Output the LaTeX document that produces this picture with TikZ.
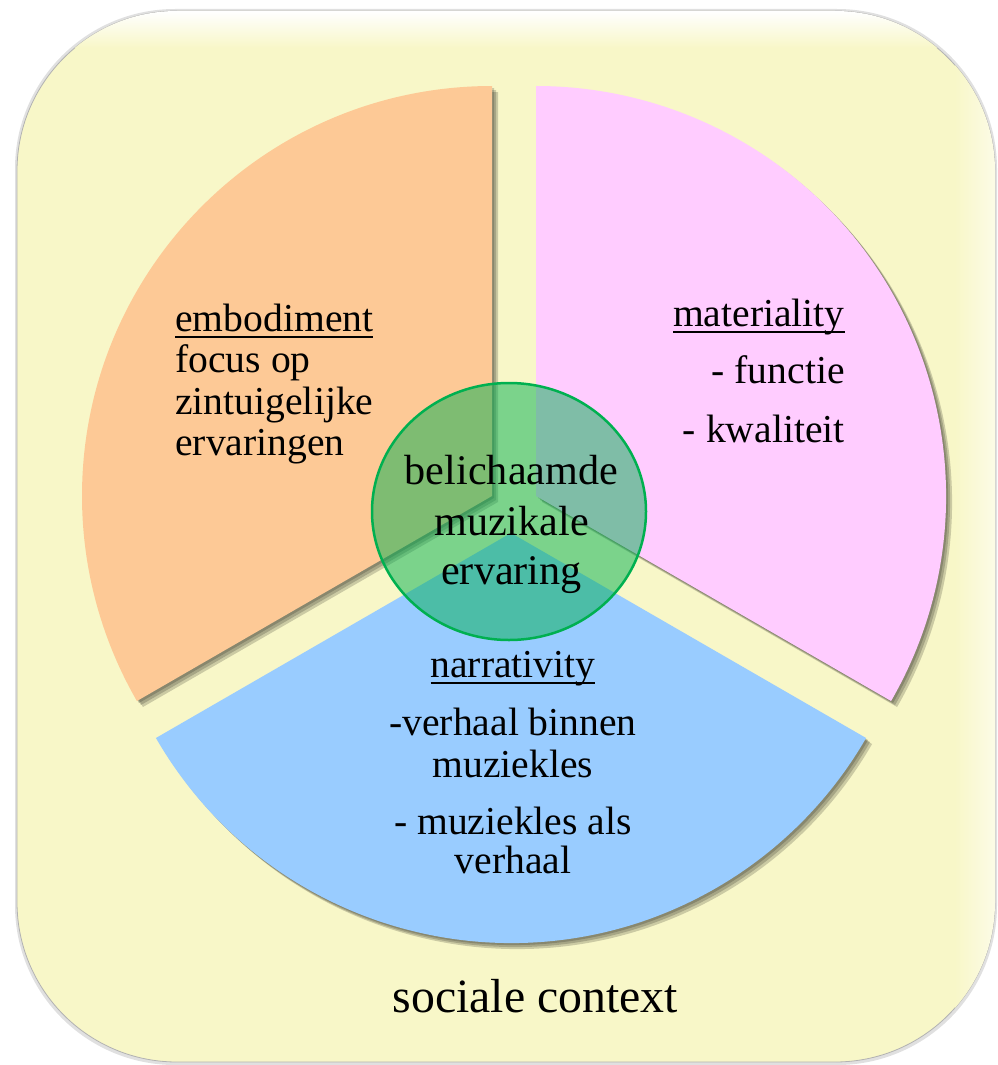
\documentclass[tikz,border=0pt]{standalone}
\usepackage{fontspec}
\setmainfont{LiberationSerif}[Extension=.ttf, UprightFont=*-Regular, BoldFont=*-Bold, ItalicFont=*-Italic, BoldItalicFont=*-BoldItalic]
\usetikzlibrary{shapes.geometric}
\definecolor{bgyellow}{RGB}{248,247,200}
\definecolor{orangesec}{RGB}{253,201,150}
\definecolor{pinksec}{RGB}{255,204,255}
\definecolor{bluesec}{RGB}{153,204,255}
\definecolor{greenc}{RGB}{0,176,80}
\newsavebox\myulbox
\newcommand{\myul}[1]{\sbox\myulbox{#1}\rlap{\rule[-3.25pt]{\wd\myulbox}{1pt}}\usebox\myulbox}
\begin{document}
\begin{tikzpicture}[x=0.5pt,y=0.5pt,
  txt/.style={inner sep=0pt, font=\rmfamily\fontsize{19.8}{20.5}\selectfont},
  ctxt/.style={inner sep=0pt, font=\rmfamily\fontsize{21.1}{24}\selectfont},
  bigtxt/.style={inner sep=0pt, font=\rmfamily\fontsize{23.9}{27}\selectfont},
  shadowlayer/.style={fill=black, opacity=0.18, draw=none},
  core/.style={ellipse, draw=greenc, fill=greenc, fill opacity=0.5, line width=1.25pt,
    minimum width=137pt, minimum height=128.5pt, inner sep=0pt}]
\useasboundingbox (0,0) rectangle (997,-1065);
\fill[white] (0,0) rectangle (997,-1065);
% background panel
\fill[black, opacity=0.12, rounded corners=80pt] (15,-9) rectangle (997,-1065);
\path[fill=bgyellow, draw=black!30, line width=0.4pt, rounded corners=80pt] (17,-11) rectangle (995,-1062);
\begin{scope}
  \clip[rounded corners=80pt] (17,-11) rectangle (995,-1062);
  \shade[top color=white, bottom color=bgyellow] (17,-11) rectangle (995,-48);
  \shade[left color=bgyellow, right color=white!55!bgyellow] (955,-11) rectangle (995,-1062);
\end{scope}
% shadows of the sectors
\foreach \d in {2,4,6} {
  \fill[shadowlayer, shift={(\d,-\d)}] (492,-496) -- ++(90:205pt) arc[start angle=90, end angle=210, radius=205pt] -- cycle;
  \fill[shadowlayer, shift={(\d,-\d)}] (536,-496) -- ++(-30:205pt) arc[start angle=-30, end angle=90, radius=205pt] -- cycle;
  \fill[shadowlayer, shift={(\d,-\d)}] (511,-533) -- ++(210:205pt) arc[start angle=210, end angle=330, radius=205pt] -- cycle;
}
% sectors
\fill[orangesec] (492,-496) -- ++(90:205pt) arc[start angle=90, end angle=210, radius=205pt] -- cycle;
\fill[pinksec] (536,-496) -- ++(-30:205pt) arc[start angle=-30, end angle=90, radius=205pt] -- cycle;
\fill[bluesec] (511,-533) -- ++(210:205pt) arc[start angle=210, end angle=330, radius=205pt] -- cycle;
% centre
\node[core] (kern) at (509,-511.5) {};
% texts: embodiment
\node[txt, anchor=base west] (emb1) at (175,-331) {\myul{embodiment}};
\node[txt, anchor=base west] (emb2) at (175,-372.5) {focus op};
\node[txt, anchor=base west] (emb3) at (175,-414) {zintuigelijke};
\node[txt, anchor=base west] (emb4) at (175,-455.5) {ervaringen};
% materiality
\node[txt, anchor=base east] (mat1) at (845,-326) {\myul{materiality}};
\node[txt, anchor=base east] (mat2) at (845,-383.5) {- functie};
\node[txt, anchor=base east] (mat3) at (845,-442) {- kwaliteit};
% narrativity
\node[txt, anchor=base] (nar1) at (513,-677) {\myul{narrativity}};
\node[txt, anchor=base] (nar2) at (513,-735.5) {-verhaal binnen};
\node[txt, anchor=base] (nar3) at (513,-777) {muziekles};
\node[txt, anchor=base] (nar4) at (513,-834) {- muziekles als};
\node[txt, anchor=base] (nar5) at (513,-873.5) {verhaal};
% centre text
\node[ctxt, anchor=base] (c1) at (511.5,-484) {belichaamde};
\node[ctxt, anchor=base] (c2) at (511.5,-535.5) {muzikale};
\node[ctxt, anchor=base] (c3) at (511.5,-584) {ervaring};
% social context
\node[bigtxt, anchor=base] (soc) at (535.4,-1012) {sociale context};
\end{tikzpicture}
\end{document}
